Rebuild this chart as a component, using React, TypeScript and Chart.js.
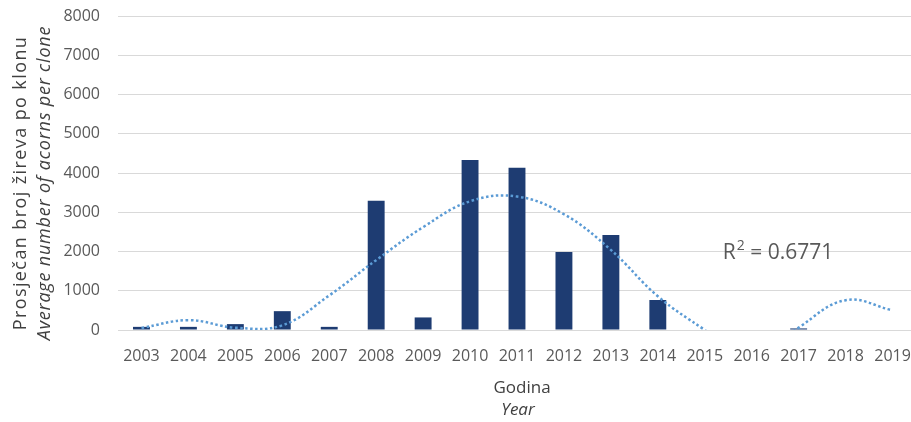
import { useEffect, useRef } from 'react';
import Chart from 'chart.js/auto';

const years = ['2003', '2004', '2005', '2006', '2007', '2008', '2009', '2010', '2011', '2012', '2013', '2014', '2015', '2016', '2017', '2018', '2019'];
const acorns = [80, 80, 150, 480, 80, 3290, 320, 4330, 4135, 1990, 2420, 765, 0, 0, 40, 0, 0];
const trendValues = [50, 250, 60, 120, 880, 1780, 2620, 3280, 3400, 2950, 2040, 860, 0, -800, 60, 760, 500];
const yTitleLines = ['Prosječan broj žireva po klonu', 'Average number of acorns per clone'];
const xTitleLines = ['Godina', 'Year'];
const r2Text = ['R', '2', ' = 0.6771'];
const yMin = 0;
const yMax = 8000;
const yStep = 1000;

const FONT = '"Open Sans", "Noto Sans", sans-serif';

const titlesPlugin = {
  id: 'customTitles',
  afterDraw(chart: any) {
    const { ctx, scales } = chart;
    ctx.save();
    ctx.fillStyle = '#404040';
    ctx.textAlign = 'center';
    ctx.textBaseline = 'middle';
    // y-axis title (two rotated lines)
    ctx.save();
    ctx.translate(21, 183);
    ctx.rotate(-Math.PI / 2);
    ctx.font = `18px ${FONT}`;
    (ctx as any).letterSpacing = '1.4px';
    ctx.fillText(yTitleLines[0], 0, 0);
    ctx.font = `italic 18px ${FONT}`;
    (ctx as any).letterSpacing = '0.8px';
    ctx.fillText(yTitleLines[1], 0, 24);
    (ctx as any).letterSpacing = '0px';
    ctx.restore();
    // x-axis title
    ctx.font = `17px ${FONT}`;
    ctx.fillText(xTitleLines[0], 522, 388);
    ctx.font = `italic 17px ${FONT}`;
    ctx.fillText(xTitleLines[1], 518, 410);
    // R² label
    const x0 = scales.x.getPixelForValue(12) + 18;
    const y0 = scales.y.getPixelForValue(1960);
    ctx.fillStyle = '#595959';
    ctx.textAlign = 'left';
    ctx.font = `21px ${FONT}`;
    ctx.fillText(r2Text[0], x0, y0);
    let x = x0 + ctx.measureText(r2Text[0]).width + 1;
    ctx.font = `14px ${FONT}`;
    ctx.fillText(r2Text[1], x, y0 - 7);
    x += ctx.measureText(r2Text[1]).width;
    ctx.font = `21px ${FONT}`;
    ctx.fillText(r2Text[2], x, y0);
    ctx.restore();
  },
};

export default function App() {
  const canvasRef = useRef<HTMLCanvasElement | null>(null);

  useEffect(() => {
    document.body.style.margin = '0';
    document.body.style.overflow = 'hidden';
    const canvas = canvasRef.current;
    if (!canvas) return;
    const chart = new Chart(canvas, {
      type: 'bar',
      data: {
        labels: years,
        datasets: [
          {
            type: 'line',
            data: trendValues,
            borderColor: '#5b9bd5',
            borderWidth: 2.5,
            borderDash: [2.5, 2.5],
            pointRadius: 0,
            tension: 0.4,
            fill: false,
            order: 0,
          } as any,
          {
            type: 'bar',
            data: acorns,
            backgroundColor: '#1e3c72',
            categoryPercentage: 0.36,
            barPercentage: 1,
            order: 1,
          },
        ],
      },
      options: {
        animation: false,
        responsive: true,
        maintainAspectRatio: false,
        layout: { padding: { top: 16, right: 0, left: 0, bottom: 0 } },
        elements: { line: { capBezierPoints: false } },
        plugins: {
          legend: { display: false },
          tooltip: { enabled: false },
        },
        scales: {
          x: {
            grid: { display: false },
            border: { display: true, color: '#d9d9d9' },
            ticks: {
              color: '#595959',
              font: { family: FONT, size: 16 },
              padding: 9,
              maxRotation: 0,
              autoSkip: false,
            },
            afterFit: (s: any) => {
              s.height = 92;
              s.paddingLeft = 0;
              s.paddingRight = 0;
            },
          },
          y: {
            min: yMin,
            max: yMax,
            grid: { color: '#d9d9d9', drawTicks: false },
            border: { display: false },
            ticks: {
              stepSize: yStep,
              color: '#595959',
              font: { family: FONT, size: 16 },
              padding: 18,
              callback: (v: any) => String(v),
            },
            afterFit: (s: any) => {
              s.width = 118;
              s.paddingTop = 0;
              s.paddingBottom = 0;
            },
          },
        },
      },
      plugins: [titlesPlugin],
    });
    return () => chart.destroy();
  }, []);

  return (
    <div style={{ position: 'fixed', left: 0, top: 0, width: 916, height: 422 }}>
      <canvas ref={canvasRef} />
    </div>
  );
}
